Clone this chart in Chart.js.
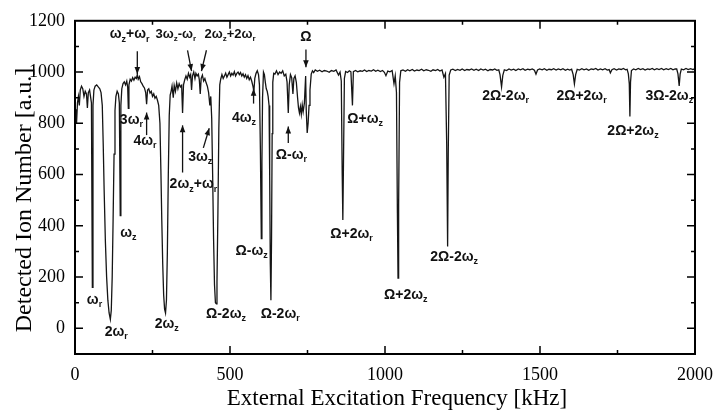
<!DOCTYPE html>
<html><head><meta charset="utf-8">
<script src="https://cdn.jsdelivr.net/npm/chart.js@4.4.1/dist/chart.umd.min.js"></script>
<style>html,body{margin:0;padding:0;background:#fff;}canvas{display:block;}</style>
</head><body>
<canvas id="c" width="723" height="414" style="width:723px;height:414px"></canvas>
<script>
// ---- data: [frequency kHz, detected ion number a.u.] ----
const spectrumLow = [
[0,830],[3,855],[5,800],[8,880],[11,905],[14,870],[17,930],[21,945],[25,935],[29,905],[33,925],[37,915],[40,860],[43,920],[47,930],[50,905],[53,880],[56,160],[58,870],[61,930],[65,945],[70,950],[75,942],[80,935],[84,920],[88,870],[91,720],[94,540],[98,340],[102,200],[106,110],[110,60],[114,35],[117,70],[120,200],[123,430],[126,680],[129,850],[132,905],[136,925],[140,915],[143,880],[146,440],[148,870],[151,935],[155,955],[159,962],[163,950],[167,965],[170,940],[172,858],[174,950],[178,972],[182,965],[186,978],[190,968],[194,980],[198,975],[201,990],[204,972],[208,982],[212,962],[216,955],[220,945],[224,938],[228,920],[231,875],[234,930],[238,935],[242,918],[246,925],[250,905],[254,915],[258,898],[262,905],[266,890],[270,870],[274,800],[277,620],[280,420],[283,250],[286,130],[289,75],[292,60],[295,110],[298,300],[301,600],[304,830],[307,910],[310,925],
[313,945],[317,900],[320,948],[324,925],[328,958],[332,935],[336,955],[340,942],[344,948],[347,840],[350,950],[354,970],[358,985],[362,972],[366,995],[370,980],[373,990],[376,930],[379,985],[383,1000],[387,975],[390,995],[394,985],[398,992],[401,970],[404,915],[407,975],[411,988],[415,965],[419,975],[423,958],[427,945],[431,920],[435,870],[438,905],[441,820],[444,600],[447,350],[450,170],[453,100],[456,96],[458,180],[461,450],[464,780],[467,950],[470,972]
];
const spectrumMid = [
[474,990],[478,975],[482,985],[486,996],[490,980],[494,990],[498,1000],[502,985],[506,995],[510,988],[514,1002],[518,985],[522,995],[526,1000],[530,990],[534,998],[538,985],[542,993],[546,980],[550,990],[554,975],[558,986],[562,970],[566,980],[570,965],[574,945],[577,925],[580,975],[584,995],[588,1005],[592,990],[595,950],[598,700],[601,350],[603,650],[605,900],[608,1000],[611,990],[614,960],[617,935],[620,925],[623,905],[626,870],[628,600],[630,250],[632,110],[634,350],[636,760],[638,960],[641,995],[645,992],[650,1005],[655,990],[660,1000],[665,995],[670,1005],[675,985],[680,992],[684,962],[688,840],[691,950],[695,990],[699,978],[703,915],[706,975],[710,985],[714,960],[718,900],[721,860],[724,840],[727,865],[730,835],[733,872],[736,845],[740,880],[744,985],[746,850],[749,762],[752,800],[755,870],[758,930],[762,992],[766,1005],[770,998],[775,1008]
];
const spectrumHigh = [
[782,1003],[789,1007],[797,1001],[804,1006],[812,1004],[820,999],[827,1006],[835,1003],[842,1008],[850,988],[855,1000],[859,965],[862,600],[864,423],[866,640],[869,975],[873,1002],[879,998],[885,1005],[890,1001],[895,870],[898,1002],[905,1006],[912,1001],[920,1005],[927,1003],[934,1008],[941,1002],[948,1006],[956,1004],[963,1009],[970,1003],[977,1007],[985,1002],[992,1006],[998,999],[1003,986],[1009,1004],[1016,1001],[1023,1006],[1029,955],[1033,985],[1037,920],[1040,450],[1042,196],[1044,480],[1047,960],[1051,1005],[1058,1008],[1066,1003],[1073,1009],[1080,1005],[1088,1010],[1095,1004],[1103,1008],[1110,1006],[1118,1011],[1125,1005],[1133,1009],[1140,1007],[1148,1003],[1155,1009],[1163,1006],[1170,1010],[1177,1004],[1184,1008],[1190,980],[1195,994],[1199,720],[1202,319],[1204,680],[1207,988],[1212,1008],[1219,1011],[1227,1006],[1234,1010],[1242,1007],[1249,1012],[1257,1006],[1264,1010],[1272,1008],[1279,1012],[1287,1007],[1294,1011],[1302,1006],[1309,1012],[1317,1008],[1324,1011],[1332,1005],[1339,1010],[1347,1008],[1354,1012],[1361,1007],[1367,1009],[1371,990],[1376,942],[1380,987],[1385,1009],[1392,1006],[1400,1012],[1407,1008],[1415,1011],[1422,1006],[1430,1012],[1437,1009],[1445,1013],[1452,1007],[1460,1011],[1467,1009],[1475,1012],[1482,1007],[1487,992],[1492,1008],[1499,1012],[1507,1009],[1514,1013],[1522,1007],[1529,1011],[1537,1009],[1544,1013],[1552,1008],[1559,1012],[1567,1009],[1574,1013],[1582,1007],[1589,1011],[1596,1008],[1602,1011],[1607,990],[1611,954],[1615,990],[1620,1011],[1627,1008],[1635,1013],[1642,1009],[1650,1012],[1657,1007],[1665,1012],[1672,1010],[1680,1014],[1687,1008],[1695,1012],[1702,1009],[1710,1013],[1717,1008],[1723,1010],[1727,997],[1732,1009],[1739,1013],[1747,1008],[1754,1012],[1762,1010],[1769,1014],[1776,1009],[1781,1011],[1785,993],[1788,955],[1790,827],[1792,960],[1795,1006],[1802,1012],[1809,1009],[1817,1014],[1824,1010],[1832,1013],[1839,1008],[1847,1012],[1854,1010],[1862,1014],[1869,1009],[1877,1013],[1884,1010],[1892,1014],[1899,1009],[1907,1013],[1914,1010],[1922,1014],[1929,1009],[1936,1012],[1941,1012],[1945,993],[1949,946],[1952,992],[1956,1012],[1963,1009],[1971,1014],[1978,1010],[1986,1013],[1993,1010],[2000,1012]
];
const xTickValues = [0, 500, 1000, 1500, 2000];
const yTickValues = [0, 200, 400, 600, 800, 1000, 1200];
const xTitle = 'External Excitation Frequency [kHz]';
const yTitle = 'Detected Ion Number [a.u.]';

// peak labels: text ("_" = subscript next char), anchored in data coordinates
const peakLabels = [
 {t:'ω_z+ω_r', f:176, v:1146}, {t:'3ω_z-ω_r', f:325, v:1146, s:13}, {t:'2ω_z+2ω_r', f:500, v:1146, s:13},
 {t:'Ω', f:745, v:1135}, {t:'3ω_r', f:182, v:811}, {t:'4ω_r', f:226, v:731},
 {t:'2ω_z+ω_r', f:382, v:561}, {t:'3ω_z', f:404, v:669}, {t:'4ω_z', f:545, v:819},
 {t:'Ω-ω_r', f:698, v:677}, {t:'Ω+ω_z', f:936, v:815}, {t:'ω_r', f:63, v:111},
 {t:'2ω_r', f:133, v:-15}, {t:'ω_z', f:172, v:373}, {t:'2ω_z', f:296, v:15},
 {t:'Ω-2ω_z', f:487, v:54}, {t:'Ω-ω_z', f:570, v:300}, {t:'Ω-2ω_r', f:662, v:54},
 {t:'Ω+2ω_r', f:892, v:369}, {t:'Ω+2ω_z', f:1067, v:131}, {t:'2Ω-2ω_z', f:1223, v:277},
 {t:'2Ω-2ω_r', f:1389, v:908}, {t:'2Ω+2ω_r', f:1634, v:908}, {t:'2Ω+2ω_z', f:1800, v:769},
 {t:'3Ω-2ω_z', f:1917, v:908}
];
const peakArrows = [
 {from:[201,1081], to:[201,992]}, {from:[363,1085], to:[376,1004]}, {from:[424,1085], to:[408,1004]},
 {from:[745,1088], to:[745,1019]}, {from:[231,754], to:[231,842]}, {from:[347,608], to:[347,792]},
 {from:[414,704], to:[433,781]}, {from:[576,877], to:[576,935]}, {from:[688,723], to:[688,788]}
];

const points = spectrumLow.concat(spectrumMid, spectrumHigh).map(p => ({x:p[0], y:p[1]}));

function drawRich(ctx, str, cx, cy, size){
  const parts = [];
  for (let i=0;i<str.length;i++){
    if (str[i]==='_'){ parts.push({t:str[i+1], sub:true}); i++; }
    else parts.push({t:str[i], sub:false});
  }
  const mainF = 'bold '+size+'px "Liberation Sans", Arial, sans-serif';
  const subF = 'bold '+Math.round(size*0.62)+'px "Liberation Sans", Arial, sans-serif';
  let w=0;
  parts.forEach(p=>{ ctx.font=p.sub?subF:mainF; p.w=ctx.measureText(p.t).width; w+=p.w; });
  let xx = cx - w/2;
  ctx.textAlign='left'; ctx.textBaseline='middle';
  parts.forEach(p=>{ ctx.font=p.sub?subF:mainF; ctx.fillText(p.t, xx, cy + (p.sub? size*0.32 : 0)); xx+=p.w; });
}
function arrow(ctx,x1,y1,x2,y2){
  ctx.beginPath(); ctx.moveTo(x1,y1); ctx.lineTo(x2,y2); ctx.stroke();
  const a=Math.atan2(y2-y1,x2-x1), L=7, W=2.8;
  ctx.beginPath(); ctx.moveTo(x2,y2);
  ctx.lineTo(x2-L*Math.cos(a)+W*Math.sin(a), y2-L*Math.sin(a)-W*Math.cos(a));
  ctx.lineTo(x2-L*Math.cos(a)-W*Math.sin(a), y2-L*Math.sin(a)+W*Math.cos(a));
  ctx.closePath(); ctx.fill();
}

const overlay = {
  id:'overlay',
  afterDraw(chart){
    const ctx=chart.ctx, a=chart.chartArea, xs=chart.scales.x, ys=chart.scales.y;
    ctx.save();
    ctx.strokeStyle='#000'; ctx.fillStyle='#000'; ctx.lineWidth=2;
    ctx.strokeRect(a.left, a.top, a.right-a.left, a.bottom-a.top);
    ctx.lineWidth=1.5;
    for (let v=250; v<2000; v+=250){
      const px=xs.getPixelForValue(v), L=(v%500===0)?8:4;
      ctx.beginPath(); ctx.moveTo(px,a.bottom); ctx.lineTo(px,a.bottom-L);
      ctx.moveTo(px,a.top); ctx.lineTo(px,a.top+L); ctx.stroke();
    }
    for (let v=0; v<1200; v+=100){
      const py=ys.getPixelForValue(v), L=(v%200===0)?8:4;
      ctx.beginPath(); ctx.moveTo(a.left,py); ctx.lineTo(a.left+L,py);
      ctx.moveTo(a.right,py); ctx.lineTo(a.right-L,py); ctx.stroke();
    }
    // titles
    ctx.textAlign='center'; ctx.textBaseline='middle';
    ctx.font='23px "Liberation Serif", "Times New Roman", serif';
    ctx.fillText(xTitle, 397, 399);
    ctx.font='24px "Liberation Serif", "Times New Roman", serif';
    ctx.save(); ctx.translate(25,200); ctx.rotate(-Math.PI/2); ctx.fillText(yTitle,0,0); ctx.restore();
    // labels & arrows
    ctx.fillStyle='#111'; ctx.strokeStyle='#111'; ctx.lineWidth=1.3;
    peakLabels.forEach(l=> drawRich(ctx, l.t, xs.getPixelForValue(l.f), ys.getPixelForValue(l.v), l.s || 14));
    peakArrows.forEach(r=> arrow(ctx, xs.getPixelForValue(r.from[0]), ys.getPixelForValue(r.from[1]), xs.getPixelForValue(r.to[0]), ys.getPixelForValue(r.to[1])));
    ctx.restore();
  }
};

const tickFont = {family:'"Liberation Serif", "Times New Roman", serif', size:18};
new Chart(document.getElementById('c'), {
  type:'scatter',
  data:{datasets:[{data:points, showLine:true, borderColor:'#151515', borderWidth:1.3, pointRadius:0, tension:0}]},
  options:{
    responsive:false, animation:false, events:[],
    layout:{padding:{top:16, right:20, left:0, bottom:0}},
    plugins:{legend:{display:false}, tooltip:{enabled:false}},
    scales:{
      x:{type:'linear', min:0, max:2000,
         afterBuildTicks:s=>{ s.ticks = xTickValues.map(v=>({value:v})); },
         afterFit:s=>{ s.height=60; },
         ticks:{font:tickFont, color:'#000', padding:10, maxRotation:0, callback:v=>String(v)},
         grid:{display:false, drawTicks:false}, border:{display:false}},
      y:{type:'linear', min:-100, max:1200,
         afterBuildTicks:s=>{ s.ticks = yTickValues.map(v=>({value:v})); },
         afterFit:s=>{ s.width=75; },
         ticks:{font:tickFont, color:'#000', padding:10, callback:v=>String(v)},
         grid:{display:false, drawTicks:false}, border:{display:false}}
    }
  },
  plugins:[overlay]
});
</script></body></html>
